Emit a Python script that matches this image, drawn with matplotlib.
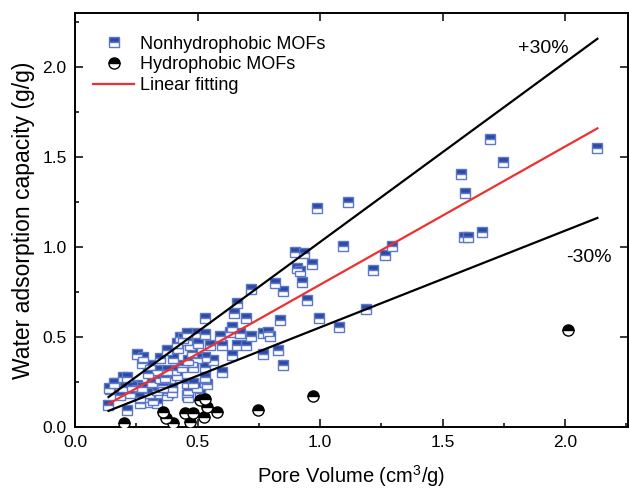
import numpy as np
import matplotlib
matplotlib.use('Agg')
import matplotlib.pyplot as plt
from matplotlib.ticker import MultipleLocator

plt.rcParams['font.family'] = ['Liberation Sans', 'DejaVu Sans']
plt.rcParams['mathtext.fontset'] = 'custom'
plt.rcParams['mathtext.rm'] = 'Liberation Sans'
plt.rcParams['mathtext.it'] = 'Liberation Sans:italic'

# Nonhydrophobic MOFs: pore volume (cm3/g), water uptake (g/g)
non_x = [0.816, 0.848, 0.718, 0.660, 0.649, 0.531, 0.698, 0.837, 0.640, 0.490,
         0.531, 0.592, 0.633, 0.673, 0.718, 0.769, 0.789, 0.796, 0.429, 0.456,
         0.469, 0.503, 0.599, 0.660, 0.698, 0.551, 0.374, 0.252, 0.279, 0.422,
         0.640, 0.769, 0.830, 0.565, 0.531, 0.497, 0.476, 0.401, 0.347, 0.272,
         0.306, 0.848, 0.599, 0.531, 0.483, 0.442, 0.408, 0.374, 0.333, 0.299,
         0.197, 0.211, 0.163, 0.143, 0.197, 0.224, 0.252, 0.272, 0.313, 0.347,
         0.354, 0.388, 0.394, 0.347, 0.381, 0.456, 0.462, 0.456, 0.531, 0.531,
         0.497, 0.279, 0.306, 0.333, 0.265, 0.136, 0.211, 0.510, 0.483, 0.537,
         0.184, 0.231, 0.303, 0.320, 0.333, 0.360, 0.374, 0.394, 0.367, 0.415,
         0.442, 0.456, 0.435, 0.462, 0.476, 0.462, 0.415, 0.265, 0.140, 0.159,
         0.986, 1.116, 0.898, 0.935, 1.095, 1.295, 1.265, 0.966, 0.907, 0.918,
         1.216, 0.927, 0.946, 1.186, 0.997, 1.076,
         1.694, 1.746, 1.574, 1.593, 1.588, 1.605, 1.663, 2.132]
non_y = [0.798, 0.756, 0.765, 0.690, 0.635, 0.607, 0.607, 0.594, 0.557, 0.520,
         0.515, 0.506, 0.530, 0.520, 0.506, 0.520, 0.530, 0.506, 0.502, 0.483,
         0.456, 0.465, 0.456, 0.456, 0.456, 0.456, 0.428, 0.406, 0.391, 0.437,
         0.400, 0.406, 0.428, 0.372, 0.391, 0.382, 0.363, 0.382, 0.382, 0.354,
         0.344, 0.344, 0.307, 0.335, 0.335, 0.344, 0.317, 0.317, 0.317, 0.298,
         0.280, 0.280, 0.243, 0.209, 0.224, 0.187, 0.233, 0.224, 0.252, 0.270,
         0.233, 0.270, 0.224, 0.187, 0.187, 0.243, 0.206, 0.178, 0.280, 0.243,
         0.224, 0.159, 0.141, 0.135, 0.131, 0.122, 0.094, 0.187, 0.243, 0.239,
         0.178, 0.228, 0.187, 0.150, 0.206, 0.224, 0.178, 0.196, 0.280, 0.465,
         0.493, 0.520, 0.335, 0.372, 0.418, 0.168, 0.289, 0.168, 0.215, 0.243,
         1.215, 1.252, 0.974, 0.965, 1.006, 1.006, 0.956, 0.906, 0.885, 0.869,
         0.872, 0.804, 0.706, 0.656, 0.604, 0.554,
         1.600, 1.474, 1.404, 1.302, 1.054, 1.054, 1.085, 1.552]

# Hydrophobic MOFs
hyd_x = [0.200, 0.360, 0.371, 0.399, 0.449, 0.480, 0.469, 0.510, 0.531, 0.537,
         0.528, 0.578, 0.748, 0.973, 2.014]
hyd_y = [0.025, 0.085, 0.048, 0.020, 0.080, 0.080, 0.028, 0.150, 0.154, 0.113,
         0.057, 0.085, 0.096, 0.175, 0.539]

# linear fit and +/-30 % band
fit_slope = 0.7674
fit_intercept = 0.023
fit_x = np.array([0.137, 2.132])
band = 0.30

fig = plt.figure(figsize=(6.29, 4.88), dpi=100)
ax = fig.add_axes([75 / 629, 61 / 488, 553 / 629, 414 / 488])

fit_y = fit_slope * fit_x + fit_intercept
ax.plot(fit_x, fit_y * (1 + band), color='black', lw=1.6, zorder=3)
ax.plot(fit_x, fit_y * (1 - band), color='black', lw=1.6, zorder=3)

ax.plot(non_x, non_y, ls='none', marker='s', ms=7.2, fillstyle='top',
        markerfacecolor='#2c4aa3', markerfacecoloralt='white',
        markeredgecolor='#5d78c8', mew=1.0, label='Nonhydrophobic MOFs', zorder=2)
ax.plot(hyd_x, hyd_y, ls='none', marker='o', ms=8, fillstyle='top',
        markerfacecolor='black', markerfacecoloralt='white',
        markeredgecolor='black', mew=1.0, label='Hydrophobic MOFs', zorder=4)
ax.plot(fit_x, fit_y, color='#ee3030', lw=1.6, label='Linear fitting', zorder=3)

ax.text(1.91, 2.105, '+30%', fontsize=14, ha='center', va='center')
ax.text(2.098, 0.944, '-30%', fontsize=14, ha='center', va='center')

ax.set_xlim(0, 2.257)
ax.set_ylim(0, 2.3)
ax.xaxis.set_major_locator(MultipleLocator(0.5))
ax.xaxis.set_minor_locator(MultipleLocator(0.25))
ax.yaxis.set_major_locator(MultipleLocator(0.5))
ax.yaxis.set_minor_locator(MultipleLocator(0.25))
ax.tick_params(which='both', direction='in', top=True, right=True, labelsize=12.5, width=1.1)
ax.tick_params(which='major', length=6, pad=6)
ax.tick_params(which='minor', length=3, top=False, right=False)
for s in ax.spines.values():
    s.set_linewidth(1.4)

ax.set_xlabel(r'Pore Volume (cm$^{\mathrm{3}}$/g)', fontsize=14.5, labelpad=9.5)
ax.set_ylabel('Water adsorption capacity (g/g)', fontsize=16.5, labelpad=5)

ax.legend(loc='upper left', bbox_to_anchor=(0.006, 0.98), frameon=False, fontsize=13,
          numpoints=1, handlelength=2.3, handletextpad=0.3, labelspacing=0.2,
          borderaxespad=0.4)

fig.savefig('out.png', dpi=100)
